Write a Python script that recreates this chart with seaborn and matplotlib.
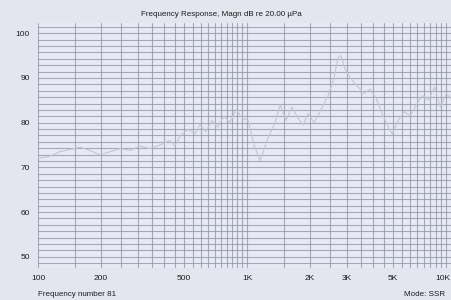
import numpy as np
import pandas as pd
import matplotlib
matplotlib.use("Agg")
import matplotlib.pyplot as plt
import seaborn as sns
from matplotlib.ticker import FixedLocator, FixedFormatter, MultipleLocator, NullFormatter

# frequency response (Hz, dB re 20 uPa)
freq = [100, 114, 127, 142, 159, 177, 198, 221, 247, 276, 307, 343, 384, 428, 452,
        478, 522, 564, 595, 636, 680, 725, 776, 830, 886, 947, 1012, 1081, 1155,
        1257, 1362, 1443, 1537, 1641, 1754, 1857, 1962, 2092, 2236, 2441, 2608,
        2727, 2818, 2946, 3180, 3398, 3632, 3881, 4148, 4433, 4737, 4951, 5290,
        5654, 6042, 6457, 6900, 7374, 7880, 8421, 8999, 9617]
level = [72.0, 72.5, 73.5, 74.0, 74.5, 73.8, 72.8, 73.5, 74.2, 73.8, 74.8, 74.2,
         75.0, 76.0, 74.8, 77.0, 78.5, 77.5, 79.5, 78.0, 80.5, 79.0, 81.5, 80.0,
         83.0, 81.0, 80.5, 75.0, 71.5, 76.5, 80.0, 84.0, 80.5, 83.5, 81.0, 79.5,
         82.0, 80.0, 82.5, 86.0, 90.0, 94.5, 95.0, 92.0, 89.5, 88.0, 86.5, 87.5,
         85.5, 82.0, 79.0, 77.5, 80.5, 82.5, 81.5, 84.0, 86.0, 85.0, 88.0, 83.5,
         86.5, 85.0]

xtick_vals = [100, 200, 500, 1000, 2000, 3000, 5000, 10000]
xtick_text = ["100", "200", "500", "1K", "2K", "3K", "5K", "10K"]
ytick_vals = [50, 60, 70, 80, 90, 100]

df = pd.DataFrame({"freq": freq, "level": level})

sns.set_theme(style="white")
plt.rcParams["font.family"] = ["Liberation Sans", "DejaVu Sans"]

bg = "#e3e5ef"
fig = plt.figure(figsize=(4.52, 3.0), dpi=100, facecolor=bg)
ax = fig.add_axes([38 / 452, 1 - 268 / 300, 418 / 452, 245.5 / 300])
ax.set_facecolor("#e7e9f4")

sns.lineplot(data=df, x="freq", y="level", ax=ax, color="#c3c7d4", lw=0.8)

ax.set_xscale("log")
ax.set_xlim(100, 10000)
ax.set_ylim(47.5, 102.4)

# grid: every 50 Hz below 1K, every 500 Hz above
vgrid = [m * d for d in (100, 1000) for m in np.arange(1, 10, 0.5)] + [10000]
# last label drawn by hand below so it stays inside the picture
ax.xaxis.set_major_locator(FixedLocator(xtick_vals))
ax.xaxis.set_major_formatter(FixedFormatter(xtick_text[:-1] + [""]))
ax.xaxis.set_minor_locator(FixedLocator(vgrid))
ax.xaxis.set_minor_formatter(NullFormatter())
ax.yaxis.set_major_locator(FixedLocator(ytick_vals))
ax.yaxis.set_minor_locator(MultipleLocator(10 / 7))
ax.yaxis.set_minor_formatter(NullFormatter())

ax.grid(True, which="both", axis="both", color="#8f93a4", lw=0.8, alpha=0.75)
ax.tick_params(which="both", length=0, labelsize=6, colors="#1e1e1e")
ax.tick_params(axis="x", pad=5)
ax.tick_params(axis="y", pad=6)
ax.set_xlabel("")
ax.set_ylabel("")
for s in ax.spines.values():
    s.set_visible(False)

fig.text(450 / 452, 1 - 279 / 300, xtick_text[-1],
         ha="right", va="center", fontsize=6, color="#1e1e1e")

fig.text(221 / 452, 1 - 14 / 300, "Frequency Response, Magn dB re 20.00 \u00b5Pa",
         ha="center", va="center", fontsize=5.8, color="#1e1e1e")
fig.text(38 / 452, 1 - 294 / 300, "Frequency number 81",
         ha="left", va="center", fontsize=5.8, color="#1e1e1e")
fig.text(404 / 452, 1 - 294 / 300, "Mode: SSR",
         ha="left", va="center", fontsize=5.8, color="#1e1e1e")

fig.savefig("out.png", dpi=100, facecolor=bg)
